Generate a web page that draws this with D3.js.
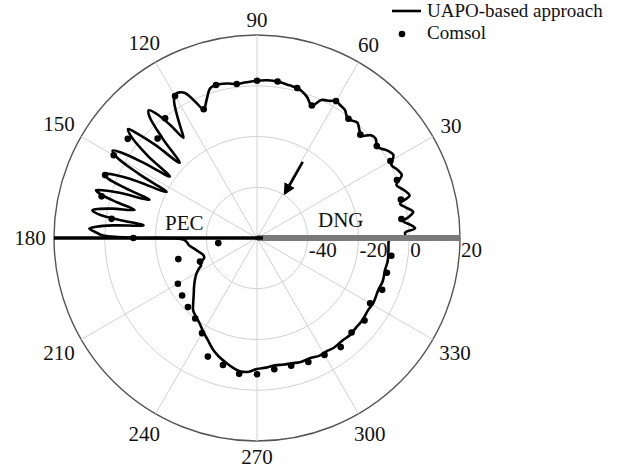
<!DOCTYPE html>
<html><head><meta charset="utf-8">
<script src="https://cdn.jsdelivr.net/npm/d3@7"></script>
<style>
body{margin:0;background:#fff}
svg{display:block}
text{font-family:"Liberation Serif","Times New Roman",serif;fill:#111}
</style>
</head><body>
<svg id="chart" width="620" height="470"></svg>
<script>
// ---------------- data ----------------
const radialTicks = [-40, -20, 0, 20];
const radialTickLabels = ["-40", "-20", "0", "20"];
const angleTicks = [30, 60, 90, 120, 150, 180, 210, 240, 270, 300, 330];
const angleTickLabels = ["30", "60", "90", "120", "150", "180", "210", "240", "270", "300", "330"];
const spokeAngles = [0, 30, 60, 90, 120, 150, 180, 210, 240, 270, 300, 330];

// UAPO-based approach (angle in degrees, value in dB)
const uapoAngles = [
  0, 2, 3.5, 5, 6.5, 8, 9.5, 11.5, 13.5, 15.5, 18, 20.8, 23.5, 26, 28.5, 31.3, 34, 37, 40, 42, 44.5,
  47, 49, 51, 53, 55.5, 58, 60, 62, 65, 67.5, 70.5, 73, 75, 78, 82.5, 86, 90, 94, 97.5, 101, 105,
  107.4, 110, 112.5, 114.4, 116.4, 118, 119.5, 121, 123, 125, 126.3, 127.5, 129, 130.3, 131.5, 133.5,
  135.8, 137.5, 138.8, 139.8, 141, 143, 144.8, 146.5, 147.8, 148.8, 150, 151.5, 153, 155, 156.3, 157.3,
  158.3, 159.3, 160.4, 161.8, 162.7, 163.5, 164.5, 165.7, 167.1, 168.5, 169.5, 170.4, 171.5, 172.5,
  173.6, 175, 176, 176.8, 177.8, 179, 180, 181.2, 184, 186, 189, 193, 197.5, 200.5, 202.5, 204, 206,
  208, 211, 214, 218, 221, 225, 228.5, 232, 236, 240, 244, 248.7, 252, 256.4, 260, 263, 266.5, 270,
  274, 278, 282, 285.5, 289, 294, 298, 301.5, 305, 310, 314, 318, 322, 327, 331, 336.8, 341, 346, 350,
  355, 359, 360
];
const uapoValues = [
  -1, -1.6, 2.4, 0.5, -2.0, 0.5, 2.4, 0, -2.0, 2.4, 1.0, -1.2, 2.2, 1.5, 0.3, 2.9, 1.8, -0.5, 1.0, 0.5, -2.4,
  -1.0, 0.3, -0.5, -0.8, 1.2, 1.8, 2.3, 1.2, 0, -3.5, -1, 0.5, 1.2, 1.5, 2.2, 2.3, 2.0, 1.5, 1.2, 2.0, 2.4,
  1.8, -2, -5.1, -0.9, 3.8, 5.0, 5.2, 3.5, -2, -8, -11, -4, 3, 6.0, 4, -6,
  -17.5, -6, 2, 6.5, 4, -6, -18, -6, 3, 6.5, 4, -7, -20, -5, 2.5, 5.5,
  3, -5, -15, -3, 3, 6.2, 3.5, -3, -10.5, -2, 3, 5.8, 3, -5,
  -15, -3, 3.5, 6.2, 4, 1, -12, -31, -32.5, -33, -34.6, -36.3, -37.8, -37.8, -36.5, -35.4, -35.5,
  -34, -32, -30.5, -28.5, -27, -24.5, -22, -20.8, -19.5, -17.5, -15.5, -12.6, -11, -9.2, -7.8, -7, -7.2, -8.4,
  -8.8, -9.3, -9, -8.8, -8.2, -8.2, -7.5, -7.6, -7.2, -7.4, -7.0, -7.4, -7.3, -7.8, -7.5, -8, -7.6, -8, -7.7,
  -8, -7.9, -6
];

// Comsol (every 7.5 degrees)
const comsolAngles = [
  7.5, 15, 22.5, 30, 37.5, 45, 52.5, 60, 67.5, 75, 82.5, 90, 97.5, 105, 112.5, 120, 127.5, 135, 142.5,
  150, 157.5, 165, 172.5, 180, 187.5, 195, 202.5, 210, 217.5, 225, 232.5, 240, 247.5, 255, 262.5, 270,
  277.5, 285, 292.5, 300, 307.5, 315, 322.5, 330, 337.5, 345, 352.5
];
const comsolValues = [
  -2.6, -1.3, -0.3, 0.7, -0.5, -2.4, -0.8, 2.3, -3.5, 1.2, 2.2, 2.0, 1.2, 2.4, -5.1, 4.6, -0.5, -4.6, 4.2,
  5.2, 4.8, 3.4, -2.2, -11.3, -44.6, -27.9, -35.7, -24.0, -22.8, -21.5, -20.0, -16.7, -9.4, -8.2, -6.0, -6.3,
  -7.8, -7.9, -7.1, -6.8, -5.8, -7.3, -6.6, -8.5, -6.6, -7.0, -6.6
];

// annotation arrow (angle, value) start -> end
const arrowFrom = [59, -25];
const arrowTo = [58, -39.2];

const seriesNames = ["UAPO-based approach", "Comsol"];

// ---------------- drawing ----------------
const svg = d3.select("#chart");
const cx = 257, cy = 238, R = 203;
const g = svg.append("g").attr("transform", `translate(${cx},${cy})`);

const r = d3.scaleLinear().domain([-60, 20]).range([0, R]);
const a = d3.scaleLinear().domain([0, 360]).range([Math.PI / 2, Math.PI / 2 - 2 * Math.PI]);
const P = (ang, val) => d3.pointRadial(a(ang), r(val));

// rings
g.selectAll("circle.ring").data(radialTicks).join("circle")
  .attr("class", "ring")
  .attr("r", d => r(d))
  .attr("fill", "none")
  .attr("stroke", d => d === 20 ? "#555" : "#d2d2d2")
  .attr("stroke-width", d => d === 20 ? 1.4 : 1);

// spokes
g.selectAll("line.spoke").data(spokeAngles).join("line")
  .attr("class", "spoke")
  .attr("x1", 0).attr("y1", 0)
  .attr("x2", d => P(d, 20)[0]).attr("y2", d => P(d, 20)[1])
  .attr("stroke", "#d2d2d2").attr("stroke-width", 1);

// angle labels
const r0 = R + 8;
angleTicks.forEach((t, i) => {
  const lab = angleTickLabels[i];
  const hw = lab.length * 5.3, hh = 7.5;
  const th = t * Math.PI / 180;
  const rr = r0 + Math.abs(Math.cos(th)) * hw + Math.abs(Math.sin(th)) * hh;
  g.append("text")
    .attr("x", rr * Math.cos(th)).attr("y", -rr * Math.sin(th))
    .attr("dy", "0.35em")
    .attr("text-anchor", "middle")
    .attr("font-size", 21)
    .text(lab);
});

// UAPO line
const lineData = uapoAngles.map((d, i) => [d, uapoValues[i]]);
const radialLine = d3.lineRadial()
  .angle(d => a(d[0]))
  .radius(d => r(d[1]))
  .curve(d3.curveCatmullRom.alpha(0.5));
g.append("path").datum(lineData)
  .attr("d", radialLine)
  .attr("fill", "none").attr("stroke", "#000").attr("stroke-width", 2.6)
  .attr("stroke-linejoin", "round");

// Comsol dots
const dotData = comsolAngles.map((d, i) => [d, comsolValues[i]]);
g.selectAll("circle.dot").data(dotData).join("circle")
  .attr("class", "dot")
  .attr("cx", d => P(d[0], d[1])[0])
  .attr("cy", d => P(d[0], d[1])[1])
  .attr("r", 3.3).attr("fill", "#000");

// PEC (black) and DNG (gray) strips
const pEnd = P(180, 20), dEnd = P(0, 20);
g.append("line").attr("x1", 0).attr("y1", 0).attr("x2", pEnd[0]).attr("y2", pEnd[1])
  .attr("stroke", "#000").attr("stroke-width", 3.5);
g.append("line").attr("x1", 0).attr("y1", 0).attr("x2", dEnd[0]).attr("y2", dEnd[1])
  .attr("stroke", "#7a7a7a").attr("stroke-width", 6);
g.append("line").attr("x1", -1).attr("y1", 0).attr("x2", 6).attr("y2", 0)
  .attr("stroke", "#000").attr("stroke-width", 3.5);

// radial tick labels
radialTicks.forEach((t, i) => {
  g.append("text")
    .attr("x", r(t) + 1).attr("y", 19)
    .attr("font-size", 21)
    .text(radialTickLabels[i]);
});

// PEC / DNG labels
g.append("text").attr("x", 165 - cx).attr("y", 230 - cy).attr("font-size", 21).text("PEC");
g.append("text").attr("x", 318 - cx).attr("y", 227 - cy).attr("font-size", 21).text("DNG");

// arrow
const defs = svg.append("defs");
defs.append("marker").attr("id", "ah").attr("viewBox", "0 0 10 10")
  .attr("refX", 8).attr("refY", 5).attr("markerWidth", 4.5).attr("markerHeight", 4.5)
  .attr("orient", "auto")
  .append("path").attr("d", "M0,0 L10,5 L0,10 Z").attr("fill", "#000");
const aS = P(arrowFrom[0], arrowFrom[1]), aE = P(arrowTo[0], arrowTo[1]);
g.append("line").attr("x1", aS[0]).attr("y1", aS[1]).attr("x2", aE[0]).attr("y2", aE[1])
  .attr("stroke", "#000").attr("stroke-width", 2.6).attr("marker-end", "url(#ah)");

// legend
const lg = svg.append("g");
lg.append("line").attr("x1", 392).attr("x2", 421).attr("y1", 11).attr("y2", 11)
  .attr("stroke", "#000").attr("stroke-width", 2.6);
lg.append("text").attr("x", 427).attr("y", 17).attr("font-size", 19).text(seriesNames[0]);
lg.append("circle").attr("cx", 402).attr("cy", 34).attr("r", 3.3).attr("fill", "#000");
lg.append("text").attr("x", 427).attr("y", 39).attr("font-size", 19).text(seriesNames[1]);
</script>
</body></html>
